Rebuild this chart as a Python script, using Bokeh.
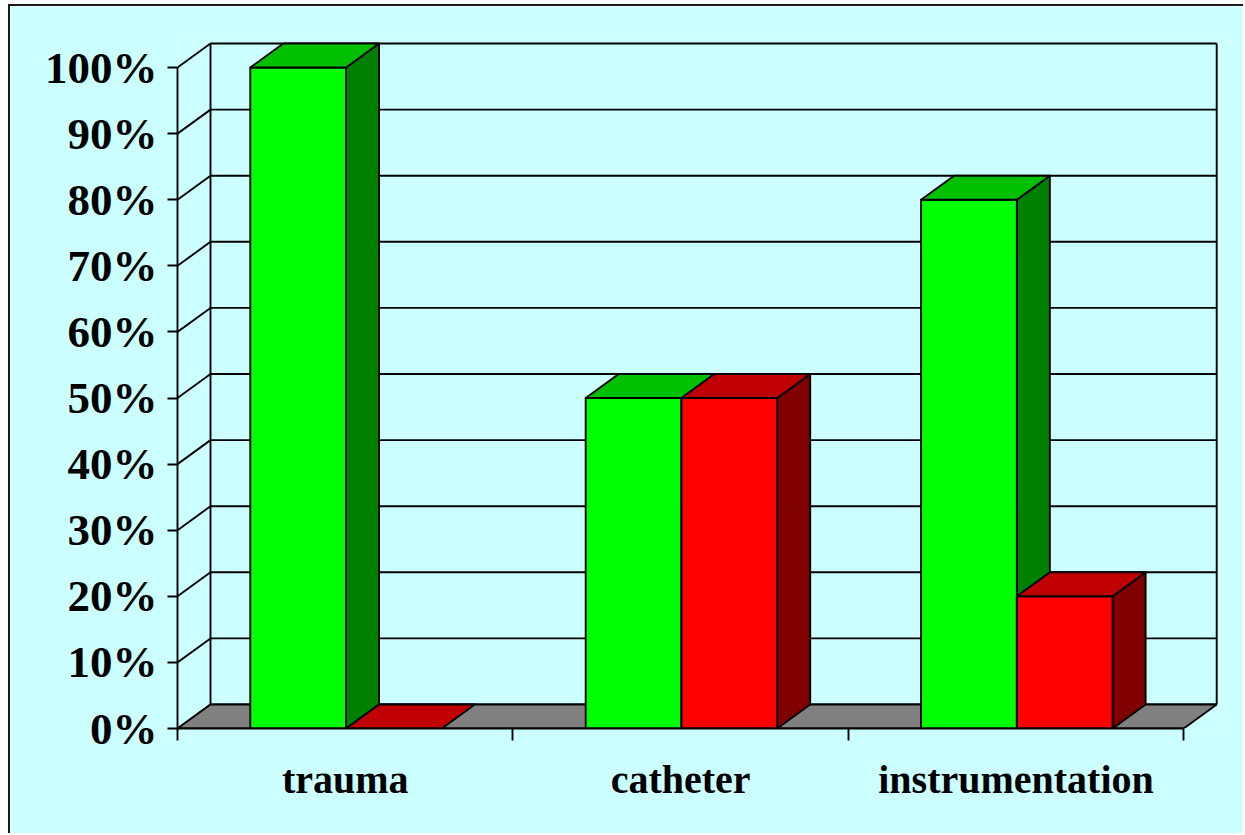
from bokeh.plotting import figure
from bokeh.models import Range1d, FixedTicker, ColumnDataSource
from bokeh.embed import file_html
from bokeh.resources import INLINE

# ---- data ----
categories = ["trauma", "catheter", "instrumentation"]
series_green = [100, 50, 80]
series_red = [0, 50, 20]
y_ticks = [0, 10, 20, 30, 40, 50, 60, 70, 80, 90, 100]

# ---- style / geometry ----
BG = "#CCFFFF"
FACE = [("#00FF00", "#00C000", "#008000"),   # front, top, side
        ("#FF0000", "#C00000", "#800000")]
FLOOR = "#808080"
LW = 1.9
DX = 33 / 335.4      # depth offset in category units
DY = 24 / 6.61       # depth offset in percent units
GAP0 = 0.217
BW = 0.2855
n = len(categories)

p = figure(width=1235, height=829, output_backend="svg", toolbar_location=None,
           x_range=Range1d(0, 3.1097), y_range=Range1d(0, 104.24),
           min_border_left=167, min_border_right=25, min_border_top=33, min_border_bottom=107)
p.title = None
p.background_fill_color = BG
p.border_fill_color = BG
p.outline_line_color = None
p.xgrid.visible = False
p.ygrid.visible = False
p.styles = {"border-top": "2px solid #1a1a1a", "border-left": "2px solid #1a1a1a",
            "margin-left": "8px", "margin-top": "4px"}

# back wall gridlines
gx0 = [DX for v in y_ticks]
gx1 = [n + DX for v in y_ticks]
gy = [v + DY for v in y_ticks]
p.segment(x0=gx0, y0=gy, x1=gx1, y1=gy, line_color="black", line_width=LW)
# left wall diagonals
p.segment(x0=[0 for v in y_ticks], y0=y_ticks, x1=[DX for v in y_ticks], y1=gy,
          line_color="black", line_width=LW)
# back verticals
p.segment(x0=[DX, n + DX], y0=[DY, DY], x1=[DX, n + DX], y1=[y_ticks[-1] + DY] * 2,
          line_color="black", line_width=LW)
# floor
p.patch(x=[0, n, n + DX, DX], y=[0, 0, DY, DY], fill_color=FLOOR,
        line_color="black", line_width=LW)

# bars
xs, ys, cols = [], [], []
for i in range(n):
    for s, vals in enumerate([series_green, series_red]):
        v = vals[i]
        x0 = i + GAP0 + s * BW
        x1 = x0 + BW
        front, top, side = FACE[s]
        if v > 0:
            xs.append([x1, x1 + DX, x1 + DX, x1]); ys.append([0, DY, v + DY, v]); cols.append(side)
            xs.append([x0, x1, x1, x0]); ys.append([0, 0, v, v]); cols.append(front)
        xs.append([x0, x1, x1 + DX, x0 + DX]); ys.append([v, v, v + DY, v + DY]); cols.append(top)
src = ColumnDataSource(dict(xs=xs, ys=ys, c=cols))
p.patches("xs", "ys", source=src, fill_color="c", line_color="black", line_width=LW,
          line_join="round")

# y axis
ya = p.yaxis[0]
ya.ticker = FixedTicker(ticks=y_ticks, minor_ticks=[])
ya.major_label_overrides = {v: f"{v}%" for v in y_ticks}
ya.bounds = (0, 100)
ya.axis_line_width = LW
ya.major_tick_line_width = LW
ya.major_tick_out = 10
ya.major_tick_in = 0
ya.major_label_standoff = 10
ya.major_label_text_font = "Liberation Serif"
ya.major_label_text_font_style = "bold"
ya.major_label_text_font_size = "45px"
ya.major_label_text_color = "black"

# x axis
xa = p.xaxis[0]
xa.ticker = FixedTicker(ticks=[i + 0.5 for i in range(n)], minor_ticks=list(range(n + 1)))
xa.major_label_overrides = {i + 0.5: c for i, c in enumerate(categories)}
xa.bounds = (0, n)
xa.axis_line_width = LW
xa.major_tick_line_color = None
xa.major_tick_out = 12
xa.major_tick_in = 0
xa.minor_tick_out = 12
xa.minor_tick_in = 0
xa.minor_tick_line_width = LW
xa.minor_tick_line_color = "black"
xa.major_label_standoff = 16
xa.major_label_text_font = "Liberation Serif"
xa.major_label_text_font_style = "bold"
xa.major_label_text_font_size = "40px"
xa.major_label_text_color = "black"

open("out.html", "w").write(file_html(p, INLINE))
